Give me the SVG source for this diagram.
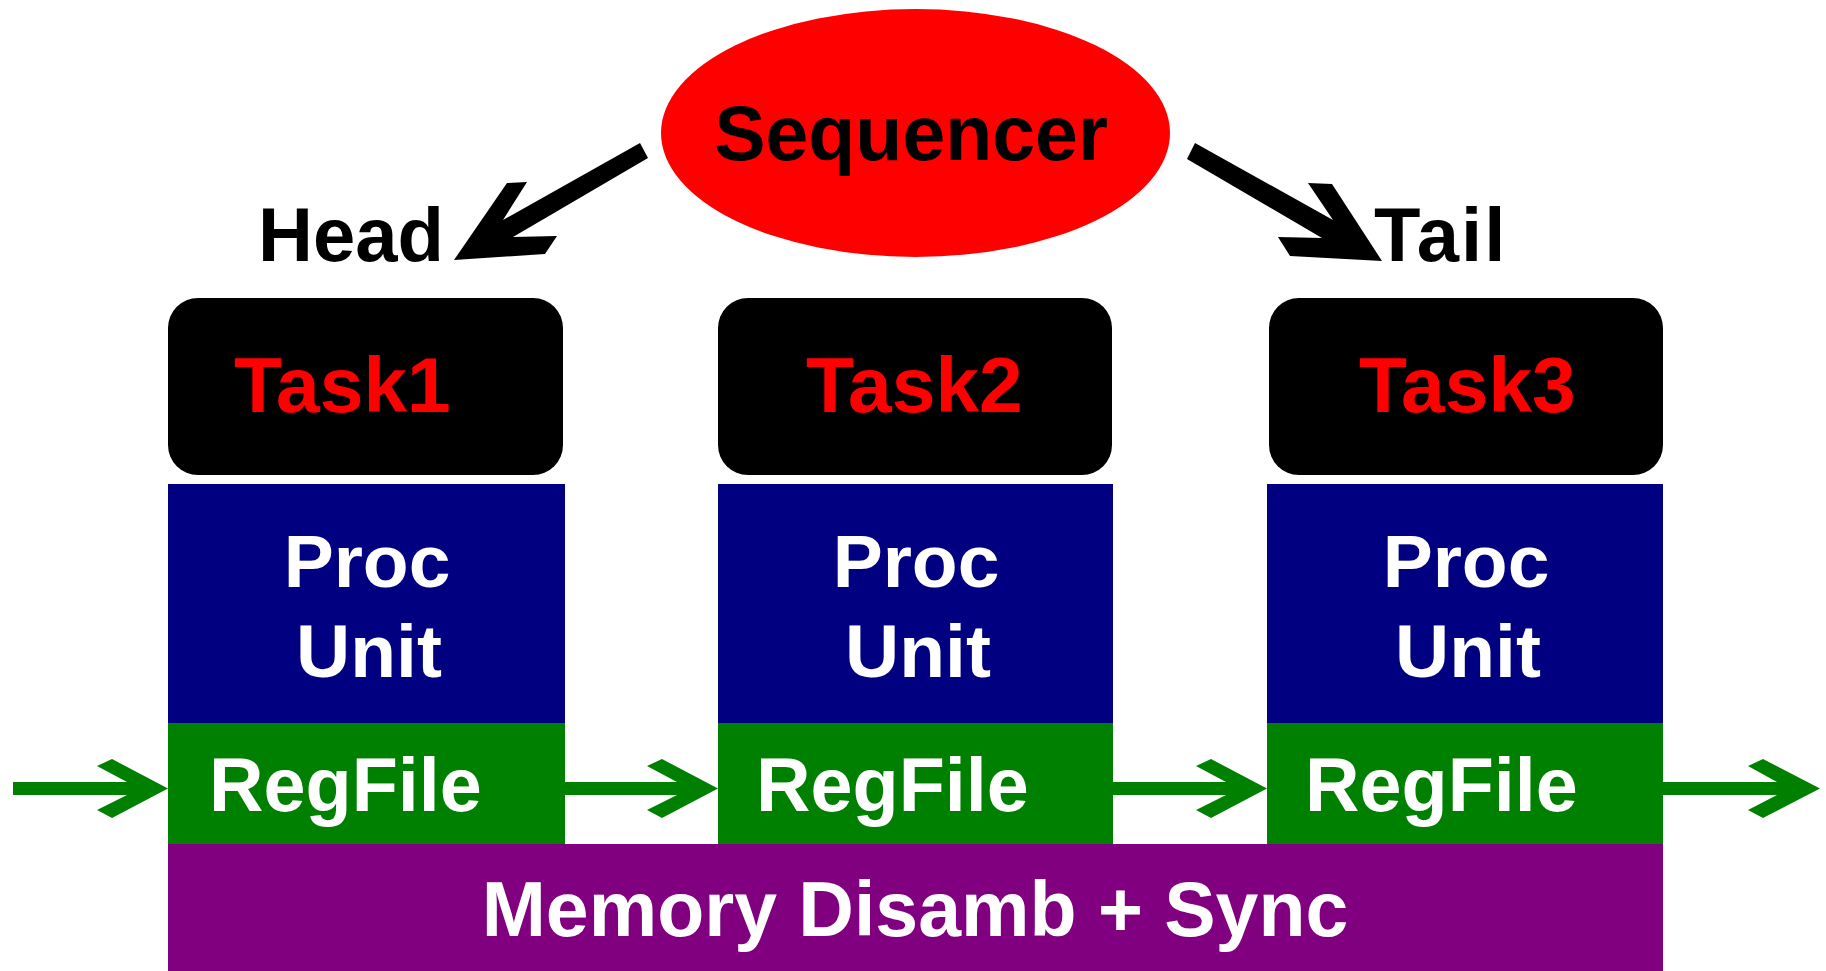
<svg xmlns="http://www.w3.org/2000/svg" width="1826" height="971" viewBox="0 0 1826 971">
  <style>
    .lbl { font-family: "Liberation Sans", Arial, sans-serif; font-weight: bold; }
    .task { fill: #000000; }
    .task-t { fill: #FF0000; font-size: 78.5px; }
    .proc { fill: #000080; }
    .reg { fill: #008000; }
    .mem { fill: #800080; }
    .white { fill: #FFFFFF; font-size: 75px; }
    .black { fill: #000000; font-size: 76px; }
    .green-arrow { fill: #008000; }
    .black-arrow { fill: #000000; }
  </style>
  <rect width="1826" height="971" fill="#FFFFFF"/>

  <!-- sequencer -->
  <g id="sequencer">
    <ellipse cx="915.5" cy="133" rx="254.5" ry="124" fill="#FF0000"/>
    <text class="lbl black" x="911" y="160" text-anchor="middle" style="font-size:77px">Sequencer</text>
  </g>

  <!-- head / tail labels -->
  <g id="head-label">
    <text class="lbl black" x="258" y="261">Head</text>
  </g>
  <g id="tail-label">
    <text class="lbl black" x="1374" y="261" letter-spacing="2">Tail</text>
  </g>

  <!-- task slots -->
  <g id="task1">
    <rect class="task" x="168" y="298" width="395" height="177" rx="30" ry="30"/>
    <text class="lbl task-t" x="234" y="412">Task1</text>
  </g>
  <g id="task2">
    <rect class="task" x="718" y="298" width="394" height="177" rx="30" ry="30"/>
    <text class="lbl task-t" x="806" y="412">Task2</text>
  </g>
  <g id="task3">
    <rect class="task" x="1269" y="298" width="394" height="177" rx="30" ry="30"/>
    <text class="lbl task-t" x="1359" y="412">Task3</text>
  </g>

  <!-- processing units -->
  <g id="proc1">
    <rect class="proc" x="168" y="484" width="397" height="239"/>
    <text class="lbl white" x="367" y="587" text-anchor="middle">Proc</text>
    <text class="lbl white" x="369" y="677" text-anchor="middle">Unit</text>
  </g>
  <g id="proc2">
    <rect class="proc" x="718" y="484" width="395" height="239"/>
    <text class="lbl white" x="916" y="587" text-anchor="middle">Proc</text>
    <text class="lbl white" x="918" y="677" text-anchor="middle">Unit</text>
  </g>
  <g id="proc3">
    <rect class="proc" x="1267" y="484" width="396" height="239"/>
    <text class="lbl white" x="1466" y="587" text-anchor="middle">Proc</text>
    <text class="lbl white" x="1468" y="677" text-anchor="middle">Unit</text>
  </g>

  <!-- register files -->
  <g id="regfile1">
    <rect class="reg" x="168" y="723" width="397" height="121"/>
    <text class="lbl white" x="209" y="811" style="font-size:75.5px">RegFile</text>
  </g>
  <g id="regfile2">
    <rect class="reg" x="718" y="723" width="395" height="121"/>
    <text class="lbl white" x="756" y="811" style="font-size:75.5px">RegFile</text>
  </g>
  <g id="regfile3">
    <rect class="reg" x="1267" y="723" width="396" height="121"/>
    <text class="lbl white" x="1305" y="811" style="font-size:75.5px">RegFile</text>
  </g>

  <!-- shared memory layer -->
  <g id="memory">
    <rect class="mem" x="168" y="844" width="1495" height="127"/>
    <text class="lbl white" x="915" y="936" text-anchor="middle" style="font-size:77px">Memory Disamb + Sync</text>
  </g>

  <!-- connectors -->
  <g id="connectors">
    <!-- sequencer to head -->
    <path class="black-arrow" d="M454,260 L507,183 L527,182 L503,220 L640,143 L648,158 L513,237 L557,236 L545,254 Z"/>
    <!-- sequencer to tail -->
    <path class="black-arrow" d="M1195,143 L1333,220 L1308,183 L1332,184 L1382,261 L1290,256 L1278,237 L1322,238 L1187,159 Z"/>
    <!-- register forwarding ring -->
    <path class="green-arrow" d="M13,782 L127,782 L97,766 L112,759 L168,788.5 L112,818 L97,810 L127,795 L13,795 Z"/>
    <path class="green-arrow" d="M565,782 L677,782 L647,766 L662,759 L718,788.5 L662,818 L647,810 L677,795 L565,795 Z"/>
    <path class="green-arrow" d="M1113,782 L1226,782 L1196,766 L1211,759 L1267,788.5 L1211,818 L1196,810 L1226,795 L1113,795 Z"/>
    <path class="green-arrow" d="M1663,782 L1777,782 L1748,766 L1763,759 L1820,788.5 L1763,818 L1748,810 L1777,795 L1663,795 Z"/>
  </g>
</svg>
